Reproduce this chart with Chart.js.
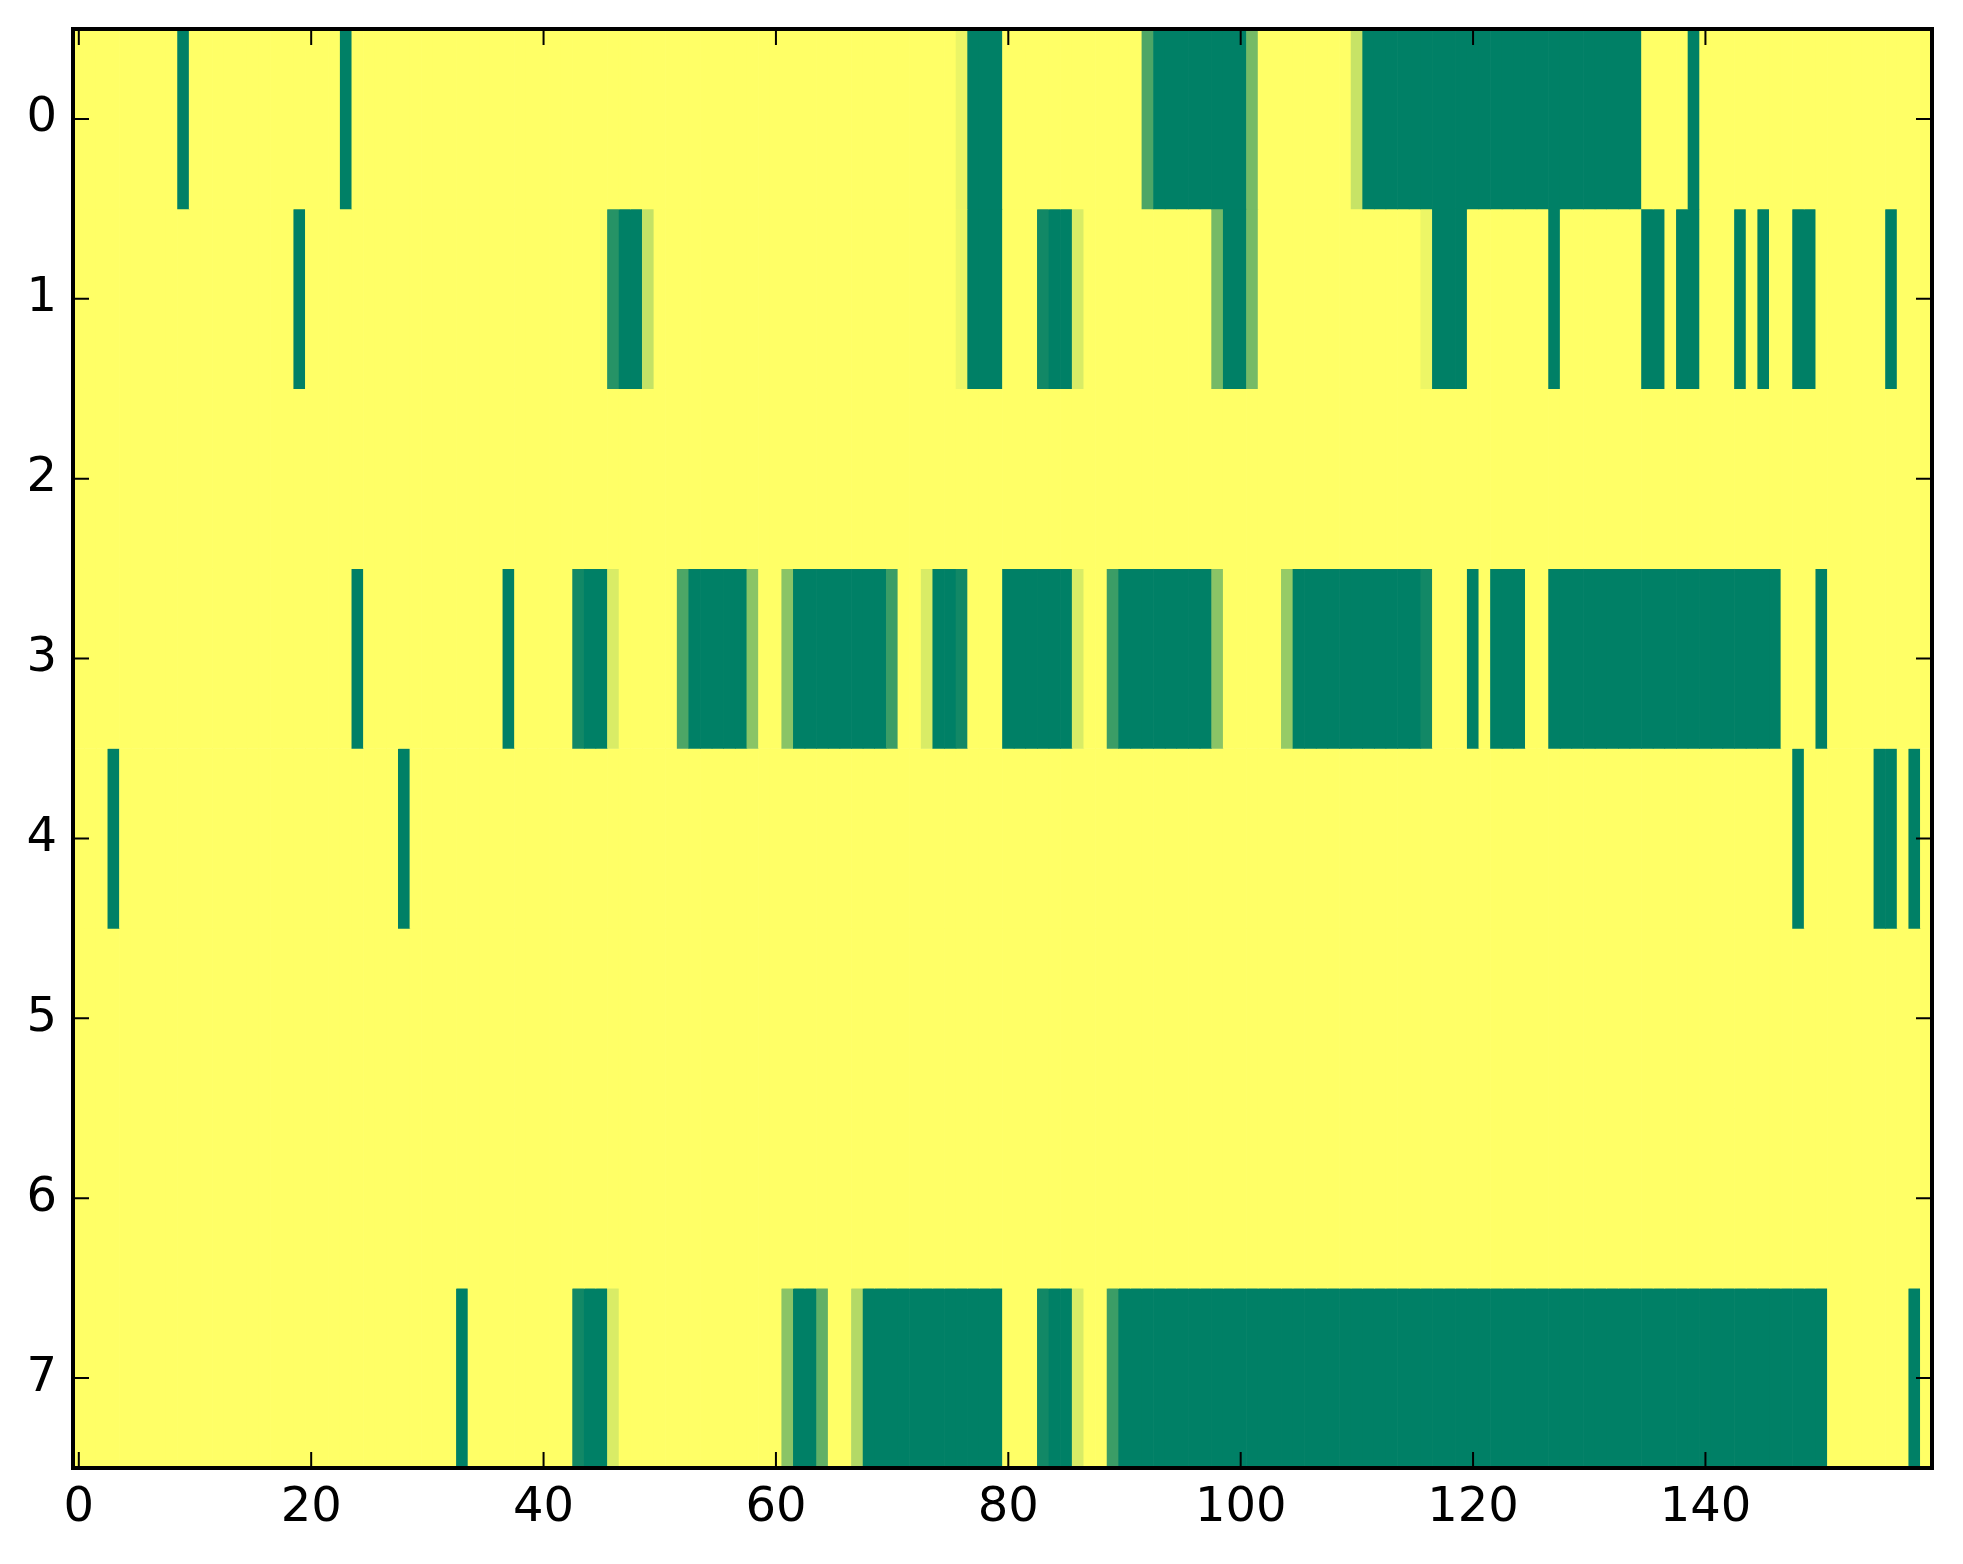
<!DOCTYPE html>
<html>
<head>
<meta charset="utf-8">
<script src="https://cdn.jsdelivr.net/npm/chart.js@4.4.1/dist/chart.umd.min.js"></script>
<style>
html, body { margin: 0; padding: 0; background: #ffffff; }
#wrap { width: 1963px; height: 1564px; position: relative; }
</style>
</head>
<body>
<div id="wrap"><canvas id="heat"></canvas></div>
<script>
// rows of the image (0 at top) and the tick marks shown on each axis
const rowLabels = ['0', '1', '2', '3', '4', '5', '6', '7'];
const xTicks = [0, 20, 40, 60, 80, 100, 120, 140];
const yTicks = [0, 1, 2, 3, 4, 5, 6, 7];

// cell values per row, columns 0..159 (0 = green, 1 = yellow)
const row0 = [
  1,1,1,1,1,1,1,1,1,0, 1,1,1,1,1,1,1,1,1,1,
  1,1,1,0,1,1,1,1,1,1, 1,1,1,1,1,1,1,1,1,1,
  1,1,1,1,1,1,1,1,1,1, 1,1,1,1,1,1,1,1,1,1,
  1,1,1,1,1,1,1,1,1,1, 1,1,1,1,1,1,0.92,0,0,0,
  1,1,1,1,1,1,1,1,1,1, 1,1,0.3,0,0,0,0,0,0,0,
  0,0.46,1,1,1,1,1,1,1,1, 0.78,0,0,0,0,0,0,0,0,0,
  0,0,0,0,0,0,0,0,0,0, 0,0,0,0,0,1,1,1,1,0,
  1,1,1,1,1,1,1,1,1,1, 1,1,1,1,1,1,1,1,1,1
];
const row1 = [
  1,1,1,1,1,1,1,1,1,1, 1,1,1,1,1,1,1,1,1,0,
  1,1,1,1,1,1,1,1,1,1, 1,1,1,1,1,1,1,1,1,1,
  1,1,1,1,1,1,0.15,0,0,0.77, 1,1,1,1,1,1,1,1,1,1,
  1,1,1,1,1,1,1,1,1,1, 1,1,1,1,1,1,0.93,0,0,0,
  1,1,1,0.07,0,0,0.85,1,1,1, 1,1,1,1,1,1,1,1,0.46,0,
  0,0.46,1,1,1,1,1,1,1,1, 1,1,1,1,1,1,0.93,0,0,0,
  1,1,1,1,1,1,1,0,1,1, 1,1,1,1,1,0,0,1,0,0,
  1,1,1,0,1,0,1,1,0,0, 1,1,1,1,1,1,0,1,1,1
];
const row2 = [
  1,1,1,1,1,1,1,1,1,1, 1,1,1,1,1,1,1,1,1,1,
  1,1,1,1,1,1,1,1,1,1, 1,1,1,1,1,1,1,1,1,1,
  1,1,1,1,1,1,1,1,1,1, 1,1,1,1,1,1,1,1,1,1,
  1,1,1,1,1,1,1,1,1,1, 1,1,1,1,1,1,1,1,1,1,
  1,1,1,1,1,1,1,1,1,1, 1,1,1,1,1,1,1,1,1,1,
  1,1,1,1,1,1,1,1,1,1, 1,1,1,1,1,1,1,1,1,1,
  1,1,1,1,1,1,1,1,1,1, 1,1,1,1,1,1,1,1,1,1,
  1,1,1,1,1,1,1,1,1,1, 1,1,1,1,1,1,1,1,1,1
];
const row3 = [
  1,1,1,1,1,1,1,1,1,1, 1,1,1,1,1,1,1,1,1,1,
  1,1,1,1,0,1,1,1,1,1, 1,1,1,1,1,1,1,0,1,1,
  1,1,1,0.07,0,0,0.85,1,1,1, 1,1,0.3,0,0,0,0,0,0.54,1,
  1,0.54,0,0,0,0,0,0,0,0, 0.23,1,1,0.85,0,0,0.07,1,1,1,
  0,0,0,0,0,0,0.85,1,1,0.23, 0,0,0,0,0,0,0,0,0.54,1,
  1,1,1,1,0.59,0,0,0,0,0, 0,0,0,0,0,0,0.07,1,1,1,
  0,1,0,0,0,1,1,0,0,0, 0,0,0,0,0,0,0,0,0,0,
  0,0,0,0,0,0,0,1,1,1, 0,1,1,1,1,1,1,1,1,1
];
const row4 = [
  1,1,1,0,1,1,1,1,1,1, 1,1,1,1,1,1,1,1,1,1,
  1,1,1,1,1,1,1,1,0,1, 1,1,1,1,1,1,1,1,1,1,
  1,1,1,1,1,1,1,1,1,1, 1,1,1,1,1,1,1,1,1,1,
  1,1,1,1,1,1,1,1,1,1, 1,1,1,1,1,1,1,1,1,1,
  1,1,1,1,1,1,1,1,1,1, 1,1,1,1,1,1,1,1,1,1,
  1,1,1,1,1,1,1,1,1,1, 1,1,1,1,1,1,1,1,1,1,
  1,1,1,1,1,1,1,1,1,1, 1,1,1,1,1,1,1,1,1,1,
  1,1,1,1,1,1,1,1,0,1, 1,1,1,1,1,0,0,1,0,1
];
const row5 = [
  1,1,1,1,1,1,1,1,1,1, 1,1,1,1,1,1,1,1,1,1,
  1,1,1,1,1,1,1,1,1,1, 1,1,1,1,1,1,1,1,1,1,
  1,1,1,1,1,1,1,1,1,1, 1,1,1,1,1,1,1,1,1,1,
  1,1,1,1,1,1,1,1,1,1, 1,1,1,1,1,1,1,1,1,1,
  1,1,1,1,1,1,1,1,1,1, 1,1,1,1,1,1,1,1,1,1,
  1,1,1,1,1,1,1,1,1,1, 1,1,1,1,1,1,1,1,1,1,
  1,1,1,1,1,1,1,1,1,1, 1,1,1,1,1,1,1,1,1,1,
  1,1,1,1,1,1,1,1,1,1, 1,1,1,1,1,1,1,1,1,1
];
const row6 = [
  1,1,1,1,1,1,1,1,1,1, 1,1,1,1,1,1,1,1,1,1,
  1,1,1,1,1,1,1,1,1,1, 1,1,1,1,1,1,1,1,1,1,
  1,1,1,1,1,1,1,1,1,1, 1,1,1,1,1,1,1,1,1,1,
  1,1,1,1,1,1,1,1,1,1, 1,1,1,1,1,1,1,1,1,1,
  1,1,1,1,1,1,1,1,1,1, 1,1,1,1,1,1,1,1,1,1,
  1,1,1,1,1,1,1,1,1,1, 1,1,1,1,1,1,1,1,1,1,
  1,1,1,1,1,1,1,1,1,1, 1,1,1,1,1,1,1,1,1,1,
  1,1,1,1,1,1,1,1,1,1, 1,1,1,1,1,1,1,1,1,1
];
const row7 = [
  1,1,1,1,1,1,1,1,1,1, 1,1,1,1,1,1,1,1,1,1,
  1,1,1,1,1,1,1,1,1,1, 1,1,1,0,1,1,1,1,1,1,
  1,1,1,0.07,0,0,0.85,1,1,1, 1,1,1,1,1,1,1,1,1,1,
  1,0.54,0,0,0.38,1,1,0.7,0,0, 0,0,0,0,0,0,0,0,0,0,
  1,1,1,0.07,0,0,0.85,1,1,0.23, 0,0,0,0,0,0,0,0,0,0,
  0,0,0,0,0,0,0,0,0,0, 0,0,0,0,0,0,0,0,0,0,
  0,0,0,0,0,0,0,0,0,0, 0,0,0,0,0,0,0,0,0,0,
  0,0,0,0,0,0,0,0,0,0, 0,1,1,1,1,1,1,1,0,1
];
const rows = [row0, row1, row2, row3, row4, row5, row6, row7];
const colLabels = row0.map((_, i) => String(i));

// matplotlib 'summer' colormap
function summer(v) {
    const r = Math.round(255 * v);
    const g = Math.round(255 * (0.5 + 0.5 * v));
    return 'rgb(' + r + ',' + g + ',102)';
}

const datasets = rows.map((vals, r) => ({
    label: rowLabels[r],
    data: vals.map(() => [r - 0.5, r + 0.5]),
    backgroundColor: vals.map(summer),
    borderWidth: 0,
    barPercentage: 1,
    categoryPercentage: 1,
    grouped: false
}));

// inward ticks on all four sides plus the black frame
const framePlugin = {
    id: 'frame',
    afterDraw(chart) {
        const { ctx, chartArea: a, scales: { x, y } } = chart;
        ctx.save();
        ctx.strokeStyle = '#000';
        ctx.lineWidth = 2;
        ctx.beginPath();
        xTicks.forEach(t => {
            const px = x.getPixelForValue(t);
            ctx.moveTo(px, a.bottom); ctx.lineTo(px, a.bottom - 16);
            ctx.moveTo(px, a.top); ctx.lineTo(px, a.top + 16);
        });
        yTicks.forEach(t => {
            const py = y.getPixelForValue(t);
            ctx.moveTo(a.left, py); ctx.lineTo(a.left + 16, py);
            ctx.moveTo(a.right, py); ctx.lineTo(a.right - 16, py);
        });
        ctx.stroke();
        ctx.lineWidth = 4;
        ctx.strokeRect(a.left, a.top, a.right - a.left, a.bottom - a.top);
        ctx.restore();
    }
};

const tickFont = { family: "'DejaVu Sans', sans-serif", size: 48 };

new Chart(document.getElementById('heat').getContext('2d'), {
    type: 'bar',
    data: { labels: colLabels, datasets: datasets },
    options: {
        responsive: true,
        maintainAspectRatio: false,
        animation: false,
        events: [],
        layout: { padding: { top: 29, right: 31, left: 0, bottom: 0 } },
        plugins: { legend: { display: false }, tooltip: { enabled: false } },
        scales: {
            x: {
                type: 'category',
                offset: true,
                grid: { display: false, drawTicks: false },
                border: { display: false },
                ticks: {
                    autoSkip: false,
                    maxRotation: 0,
                    padding: 12,
                    color: '#000',
                    font: tickFont,
                    callback: (v, i) => xTicks.includes(i) ? String(i) : ''
                },
                afterFit: s => { s.height = 96; s.paddingLeft = 0; s.paddingRight = 0; }
            },
            y: {
                type: 'linear',
                reverse: true,
                min: -0.5,
                max: 7.5,
                grid: { display: false, drawTicks: false },
                border: { display: false },
                ticks: { padding: 16, color: '#000', font: tickFont },
                afterBuildTicks: s => { s.ticks = yTicks.map(v => ({ value: v })); },
                afterFit: s => { s.width = 73; s.paddingTop = 0; s.paddingBottom = 0; }
            }
        }
    },
    plugins: [framePlugin]
});
</script>
</body>
</html>
